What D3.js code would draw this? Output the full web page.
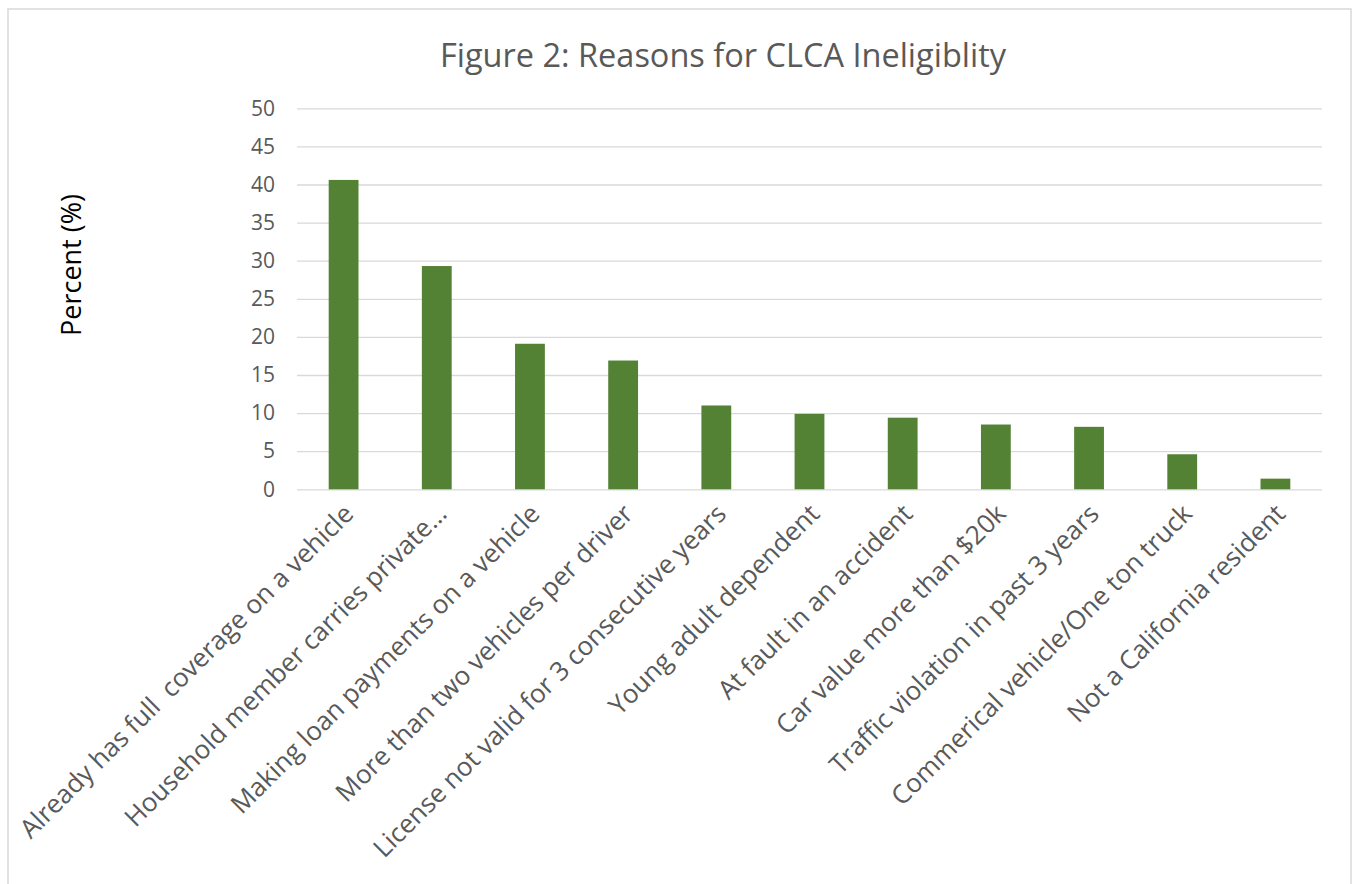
<!DOCTYPE html>
<html>
<head>
<meta charset="utf-8">
<script src="https://cdn.jsdelivr.net/npm/d3@7"></script>
<style>
  html, body { margin: 0; padding: 0; background: #ffffff; }
  svg { display: block; }
  text { font-family: "Open Sans", "Noto Sans", sans-serif; }
</style>
</head>
<body>
<svg id="chart" width="1353" height="884"></svg>
<script>
const categories = [
  "Already has full  coverage on a vehicle",
  "Household member carries private\u2026",
  "Making loan payments on a vehicle",
  "More than two vehicles per driver",
  "License not valid for 3 consecutive years",
  "Young adult dependent",
  "At fault in an accident",
  "Car value more than $20k",
  "Traffic violation in past 3 years",
  "Commerical vehicle/One ton truck",
  "Not a California resident"
];
const percentValues = [40.6, 29.3, 19.1, 16.9, 11.0, 9.9, 9.4, 8.5, 8.2, 4.6, 1.4];
const yTicks = [0, 5, 10, 15, 20, 25, 30, 35, 40, 45, 50];
const titleText = "Figure 2: Reasons for CLCA Ineligiblity";
const yAxisTitle = "Percent (%)";

const svg = d3.select("#chart");
const W = 1353, H = 884;
const plot = { left: 297, right: 1322, top: 108.3, bottom: 489.3 };

svg.append("rect").attr("width", W).attr("height", H).attr("fill", "#ffffff");
svg.append("rect")
  .attr("x", 8).attr("y", 9).attr("width", 1343).attr("height", 900)
  .attr("fill", "none").attr("stroke", "#d9d9d9").attr("stroke-width", 1.5);

const x = d3.scaleBand().domain(categories).range([plot.left, plot.right]).paddingInner(0.68).paddingOuter(0.34);
const y = d3.scaleLinear().domain([0, 50]).range([plot.bottom, plot.top]);

// gridlines
const yAxis = d3.axisLeft(y).tickValues(yTicks).tickSize(-(plot.right - plot.left)).tickPadding(22);
const gy = svg.append("g").attr("transform", `translate(${plot.left},0)`).call(yAxis);
gy.select(".domain").remove();
gy.selectAll(".tick line").attr("stroke", "#d9d9d9").attr("stroke-width", 1.3);
gy.selectAll(".tick text").attr("fill", "#595959").style("font-size", "21px").style("font-family", "'Open Sans', sans-serif");

// bars
svg.append("g").selectAll("rect").data(percentValues).join("rect")
  .attr("x", (d, i) => x(categories[i]))
  .attr("width", x.bandwidth())
  .attr("y", d => y(d))
  .attr("height", d => y(0) - y(d))
  .attr("fill", "#548235");

// x labels
svg.append("g").selectAll("text").data(categories).join("text")
  .attr("transform", d => `translate(${x(d) + x.bandwidth() / 2 + 5},${509}) rotate(-45)`)
  .attr("text-anchor", "end")
  .attr("dy", "0.35em")
  .style("white-space", "pre")
  .attr("fill", "#595959")
  .style("font-size", "26px")
  .text(d => d);

// title
svg.append("text").attr("x", 723).attr("y", 67).attr("text-anchor", "middle")
  .attr("fill", "#595959").style("font-size", "32.5px").text(titleText);

// y axis title
svg.append("text").attr("transform", "translate(72,265) rotate(-90)")
  .attr("text-anchor", "middle").attr("dy", "0.35em").attr("fill", "#000000").style("font-size", "27px").text(yAxisTitle);
</script>
</body>
</html>
